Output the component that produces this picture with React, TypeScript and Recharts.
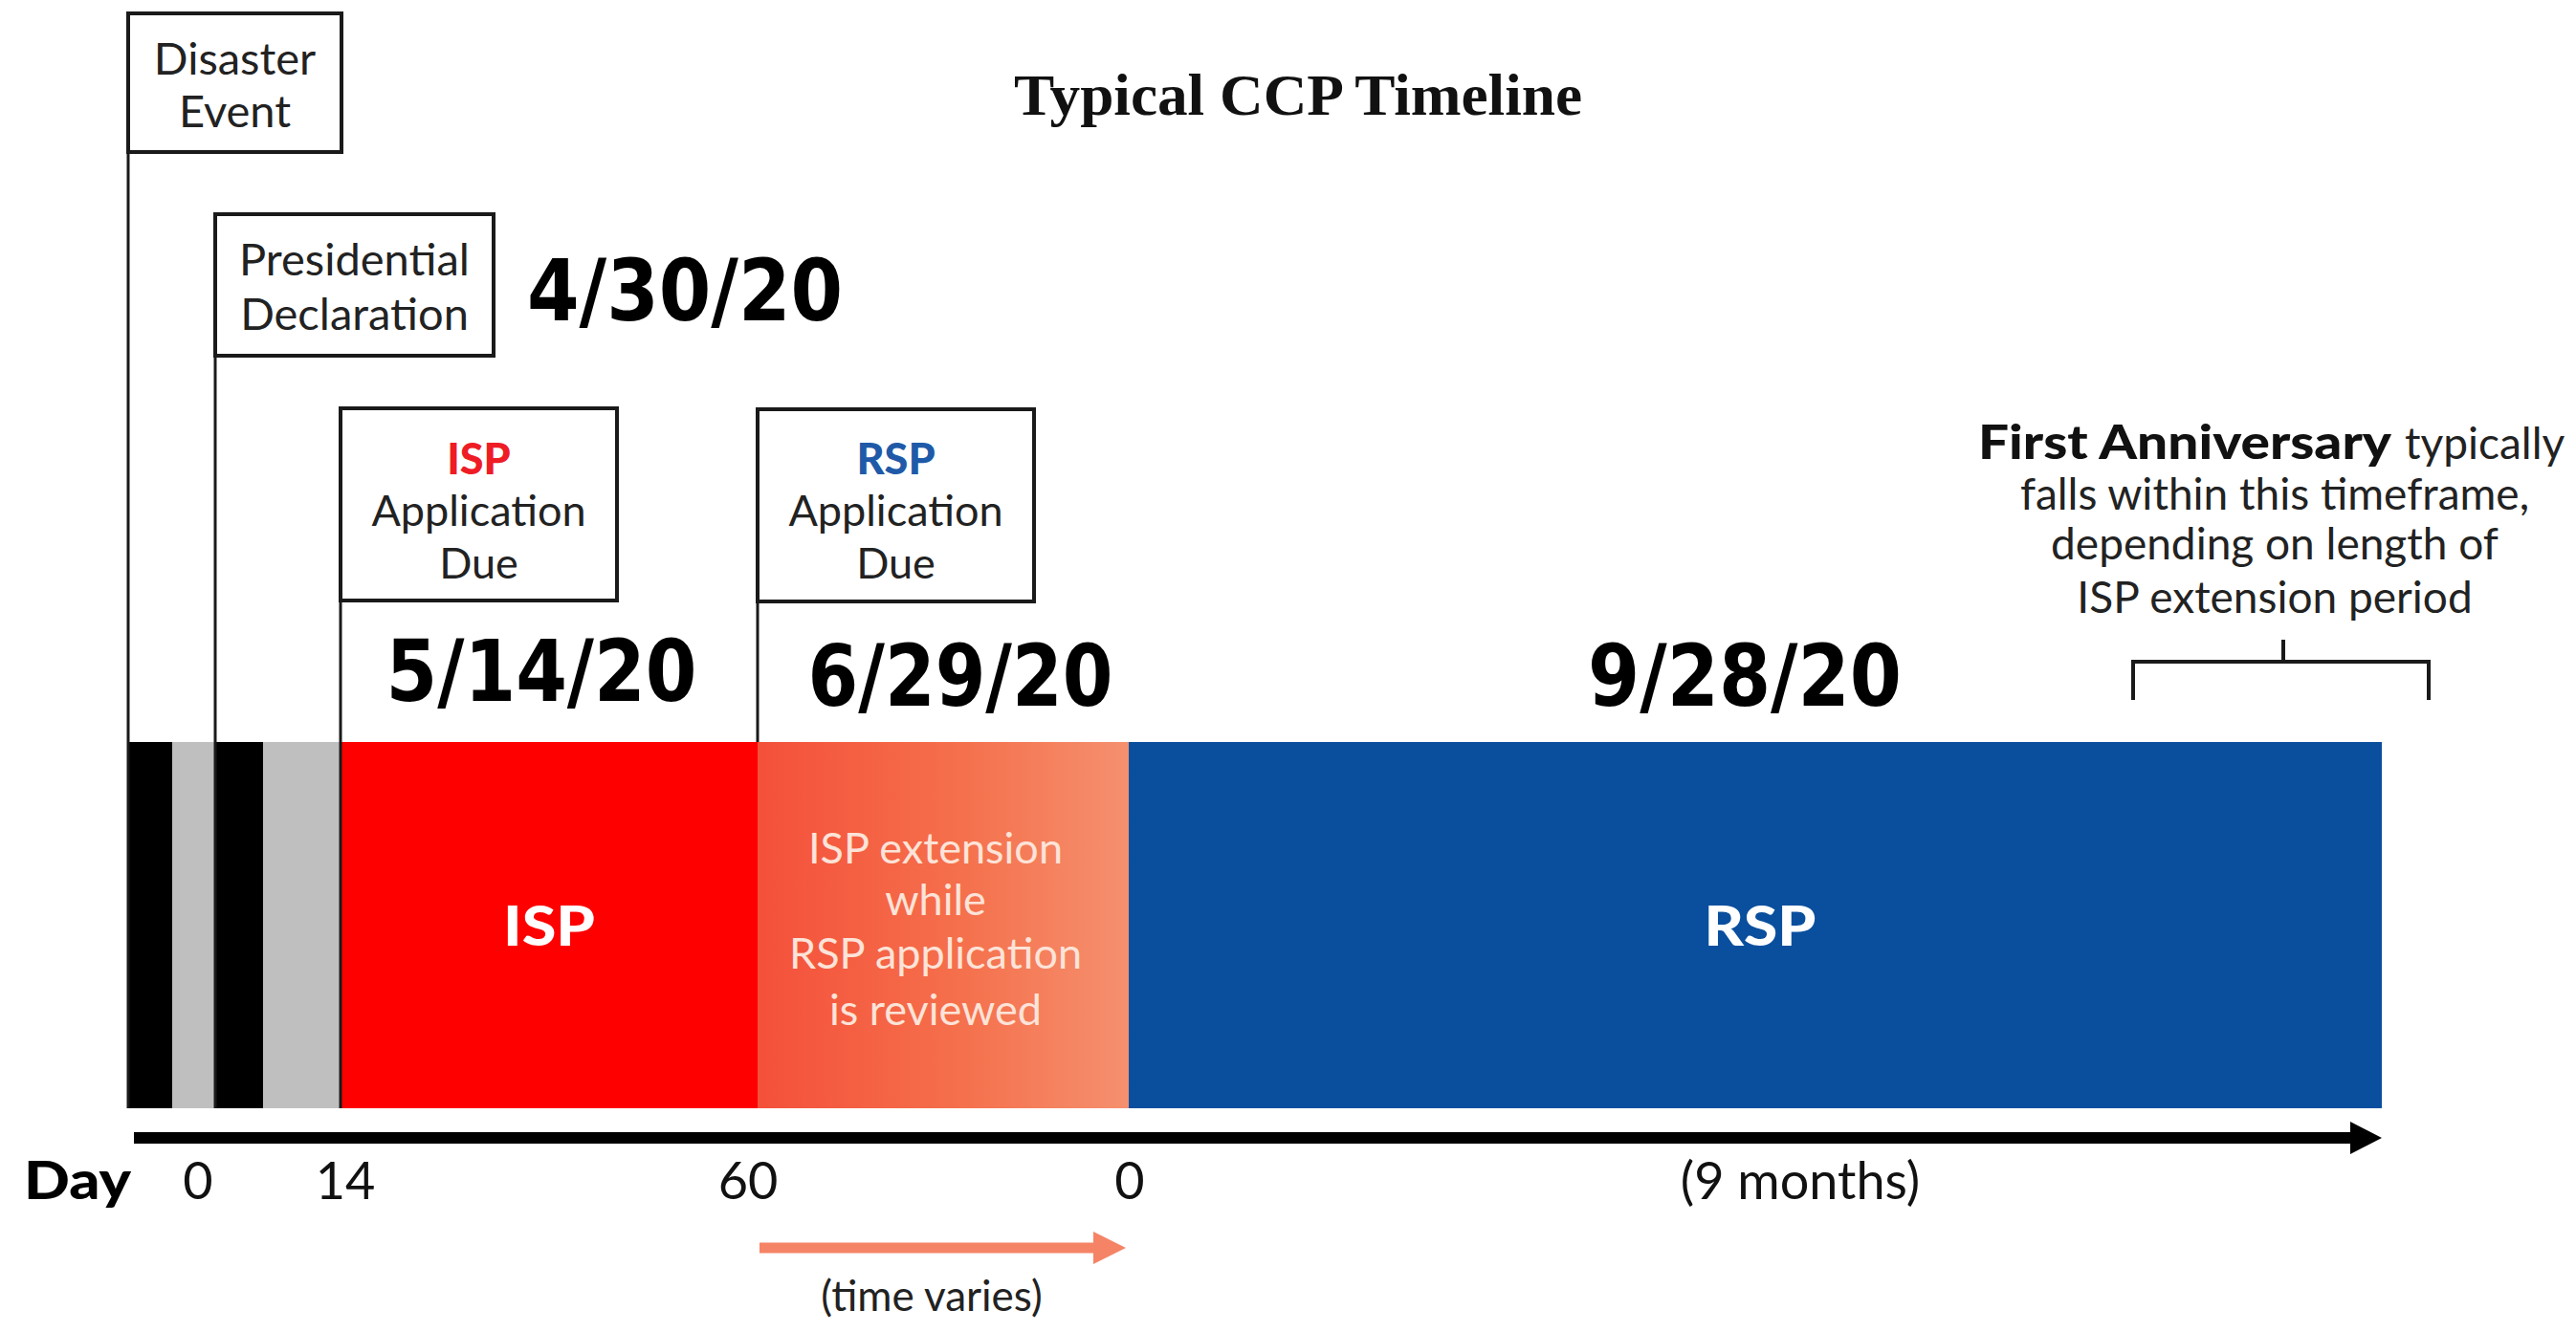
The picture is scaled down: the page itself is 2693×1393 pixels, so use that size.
import React from "react";
import { BarChart, Bar, XAxis, YAxis, ReferenceLine } from "recharts";

// pieces of the timeline bar, left to right (reference units along the bar)
const segmentKeys = ["disaster", "gap1", "declaration", "gap2", "isp", "extension", "rsp"];
const segmentLengths = [46, 45, 50, 81, 436, 388, 1310];

// milestone boxes standing on the bar
const markerLabels = [
  ["Disaster", "Event"],
  ["Presidential", "Declaration"],
  ["ISP", "Application", "Due"],
  ["RSP", "Application", "Due"],
];
const markerAt = [0, 91, 222, 658];
const markerDates = ["", "4/30/20", "5/14/20", "6/29/20"];
const rspDate = "9/28/20";

// day axis
const dayTickAt = [73, 227, 648, 1047, 1748];
const dayTickLabels = ["0", "14", "60", "0", "(9 months)"];

const extensionLines = ["ISP extension", "while", "RSP application", "is reviewed"];
const anniversaryHead = ["First Anniversary", "typically"];
const anniversaryLines = [
  "falls within this timeframe,",
  "depending on length of",
  "ISP extension period",
];

const TOTAL = segmentLengths.reduce((a, b) => a + b, 0);
const timelineRows = [
  {
    row: "timeline",
    ...Object.fromEntries(segmentKeys.map((k, i) => [k, segmentLengths[i]])),
  },
];

const SANS = "Lato, 'Open Sans', sans-serif";
const COND = "'DejaVu Sans Condensed', 'DejaVu Sans', sans-serif";
const INK = "#1a1a1a";

const segmentFill: Record<string, string> = {
  disaster: "#000000",
  gap1: "#bfbfbf",
  declaration: "#000000",
  gap2: "#bfbfbf",
  isp: "#fe0000",
  extension: "url(#extGrad)",
  rsp: "#0a4f9e",
};

// box layout per marker (x comes from the axis scale)
const boxStyle = [
  { width: 223, top: 14, bottom: 159, baselines: [78, 133], through: false },
  { width: 291, top: 224, bottom: 372, baselines: [288, 345], through: false },
  { width: 289, top: 427, bottom: 628, baselines: [496, 550, 605], through: false },
  { width: 289, top: 428, bottom: 629, baselines: [496, 550, 605], through: true },
];
const headColor = ["", "", "#ee1c25", "#1f5aa8"];
const dateStyle = [
  null,
  { dx: 326, y: 335, anchor: "start", len: 330 },
  { dx: 210, y: 733, anchor: "middle", len: 325 },
  { dx: 212, y: 738, anchor: "middle", len: 319 },
];

const rectOf = (p: any) => {
  const v = p.viewBox && p.viewBox.width !== undefined ? p.viewBox : p;
  return { x: +v.x, y: +v.y, width: +v.width, height: +v.height };
};

function renderMarker(p: any, i: number) {
  const { x1, y1, y2 } = p;
  const b = boxStyle[i];
  const d = dateStyle[i];
  const cx = x1 + b.width / 2;
  const three = markerLabels[i].length > 2;
  return (
    <g key={`marker-${i}`}>
      <line x1={x1} x2={x1} y1={b.bottom} y2={b.through ? y2 : y1} stroke={INK} strokeWidth={3} />
      <rect x={x1} y={b.top} width={b.width} height={b.bottom - b.top} fill="#fff" stroke={INK} strokeWidth={4} />
      {markerLabels[i].map((t, j) => {
        const head = j === 0 && headColor[i];
        return (
          <text
            key={t}
            x={cx}
            y={b.baselines[j]}
            textAnchor="middle"
            fontFamily={SANS}
            fontSize={three ? 45 : 47}
            fontWeight={head ? 900 : 400}
            fill={head ? headColor[i] : "#222"}
          >
            {t}
          </text>
        );
      })}
      {d && (
        <text
          x={x1 + d.dx}
          y={d.y}
          textAnchor={d.anchor as any}
          fontFamily={COND}
          fontWeight={700}
          fontSize={89}
          textLength={d.len}
          lengthAdjust="spacingAndGlyphs"
          fill="#000"
        >
          {markerDates[i]}
        </text>
      )}
    </g>
  );
}

function renderIspLabel(p: any) {
  const { x, y, width } = rectOf(p);
  return (
    <text x={x + width / 2} y={y + 213} textAnchor="middle" fontFamily={SANS} fontWeight={900} fontSize={58}
      textLength={96} lengthAdjust="spacingAndGlyphs" fill="#fff">
      ISP
    </text>
  );
}

function renderExtensionLabel(p: any) {
  const { x, y, width, height } = rectOf(p);
  const cx = x + width / 2 - 8;
  const base = [127, 181, 237, 296];
  const ay = y + height + 146;
  const end = x + width - 3;
  return (
    <g>
      {extensionLines.map((t, j) => (
        <text key={t} x={cx} y={y + base[j]} textAnchor="middle" fontFamily={SANS} fontSize={45} fill="#fde3d8">
          {t}
        </text>
      ))}
      <line x1={x + 2} x2={end - 32} y1={ay} y2={ay} stroke="#f58466" strokeWidth={11} />
      <polygon points={`${end - 34},${ay - 17} ${end},${ay} ${end - 34},${ay + 17}`} fill="#f58466" />
      <text x={x + width / 2 - 12} y={y + height + 212} textAnchor="middle" fontFamily={SANS} fontSize={44} fill="#222">
        (time varies)
      </text>
    </g>
  );
}

function renderRspLabel(p: any) {
  const { x, y, width } = rectOf(p);
  const end = x + width;
  const tx = end - 112;
  const base = [-243, -191, -135];
  return (
    <g>
      <text x={x + width / 2 + 5} y={y + 213} textAnchor="middle" fontFamily={SANS} fontWeight={900} fontSize={58}
        textLength={117} lengthAdjust="spacingAndGlyphs" fill="#fff">
        RSP
      </text>
      <text x={x + width / 2 - 11} y={y - 38} textAnchor="middle" fontFamily={COND} fontWeight={700} fontSize={89}
        textLength={328} lengthAdjust="spacingAndGlyphs" fill="#000">
        {rspDate}
      </text>
      <path d={`M${end - 260},${y - 44} V${y - 84} H${end + 49} V${y - 44}`} fill="none" stroke={INK} strokeWidth={4} />
      <line x1={end - 103} x2={end - 103} y1={y - 84} y2={y - 107} stroke={INK} strokeWidth={4} />
      <text x={end + 10} y={y - 296} textAnchor="end" fontFamily={SANS} fontWeight={900} fontSize={50}
        textLength={432} lengthAdjust="spacingAndGlyphs" fill="#111">
        {anniversaryHead[0]}
      </text>
      <text x={end + 24} y={y - 296} textAnchor="start" fontFamily={SANS} fontSize={46} fill="#222">
        {anniversaryHead[1]}
      </text>
      {anniversaryLines.map((t, j) => (
        <text key={t} x={tx} y={y + base[j]} textAnchor="middle" fontFamily={SANS} fontSize={46} fill="#222">
          {t}
        </text>
      ))}
    </g>
  );
}

const segmentLabel: Record<string, any> = {
  isp: renderIspLabel,
  extension: renderExtensionLabel,
  rsp: renderRspLabel,
};

function DayTick(props: any) {
  const { x, payload } = props;
  const i = dayTickAt.indexOf(payload.value);
  return (
    <text x={x} y={1254} textAnchor="middle" fontFamily={SANS} fontSize={54} fill="#111">
      {dayTickLabels[i]}
    </text>
  );
}

function renderAxisArrow(props: any) {
  const vb = props.viewBox;
  const y = vb.y + 31;
  const x0 = vb.x + 6;
  const x1 = vb.x + vb.width;
  return (
    <g>
      <line x1={x0} x2={x1 - 30} y1={y} y2={y} stroke="#000" strokeWidth={12} />
      <polygon points={`${x1 - 33},${y - 17} ${x1},${y} ${x1 - 33},${y + 17}`} fill="#000" />
      <text x={vb.x + 3} y={1254} textAnchor="end" fontFamily={SANS} fontWeight={900} fontSize={56}
        textLength={112} lengthAdjust="spacingAndGlyphs" fill="#000">
        Day
      </text>
    </g>
  );
}

export default function App() {
  return (
    <div style={{ position: "absolute", left: 0, top: 0, width: 2693, height: 1393, background: "#fff" }}>
      <BarChart
        layout="vertical"
        width={2693}
        height={1393}
        data={timelineRows}
        margin={{ top: 776, right: 203, bottom: 204, left: 134 }}
        barCategoryGap={0}
      >
        <defs>
          <linearGradient id="extGrad" x1="0" y1="0" x2="1" y2="0">
            <stop offset="0%" stopColor="#f4503a" />
            <stop offset="55%" stopColor="#f5704c" />
            <stop offset="100%" stopColor="#f5906f" />
          </linearGradient>
        </defs>
        <text x={1357} y={120} textAnchor="middle" fontFamily="'Liberation Serif', 'Times New Roman', serif"
          fontWeight={700} fontSize={62} textLength={594} lengthAdjust="spacingAndGlyphs" fill="#111">
          Typical CCP Timeline
        </text>
        <XAxis
          type="number"
          domain={[0, TOTAL]}
          ticks={dayTickAt}
          interval={0}
          axisLine={false}
          tickLine={false}
          height={30}
          tick={<DayTick />}
          label={{ content: renderAxisArrow }}
        />
        <YAxis type="category" dataKey="row" hide />
        {segmentKeys.map((k) => (
          <Bar
            key={k}
            dataKey={k}
            stackId="t"
            fill={segmentFill[k]}
            isAnimationActive={false}
            label={segmentLabel[k]}
          />
        ))}
        {markerAt.map((m, i) => (
          <ReferenceLine key={i} x={m} ifOverflow="visible" shape={(p: any) => renderMarker(p, i)} />
        ))}
      </BarChart>
    </div>
  );
}
